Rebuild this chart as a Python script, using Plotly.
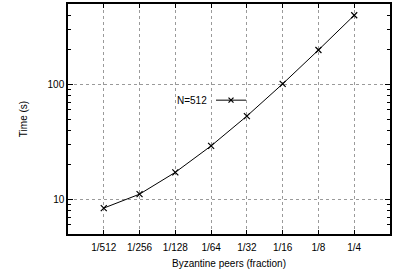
import plotly.graph_objects as go

categories = ["1/512", "1/256", "1/128", "1/64", "1/32", "1/16", "1/8", "1/4"]
times = [8.4, 11.1, 17.2, 29.2, 53, 101, 199, 399]
series_name = "N=512"
y_major = [10, 100]
y_minor = [5, 6, 7, 8, 9, 20, 30, 40, 50, 60, 70, 80, 90, 200, 300, 400, 500]

font = dict(family="Liberation Sans, Arial, sans-serif", size=10, color="black")

fig = go.Figure()
fig.add_trace(go.Scatter(
    x=list(range(len(categories))), y=times, mode="lines+markers",
    name=series_name,
    line=dict(color="black", width=1),
    marker=dict(symbol="x-thin", size=6, line=dict(color="black", width=1.2)),
    showlegend=False,
))

fig.update_layout(
    width=395, height=275,
    margin=dict(l=68, r=5, t=2, b=41),
    paper_bgcolor="white", plot_bgcolor="white",
    font=font,
    xaxis=dict(
        range=[-1, 8],
        tickmode="array", tickvals=list(range(len(categories))), ticktext=categories,
        showgrid=True, gridcolor="#9a9a9a", griddash="dot", gridwidth=1,
        showline=True, linecolor="black", linewidth=1.5, mirror="ticks",
        ticks="inside", ticklen=4, tickcolor="black", ticklabelstandoff=3,
        title=dict(text="Byzantine peers (fraction)", standoff=8, font=font),
        zeroline=False,
    ),
    yaxis=dict(
        type="log", range=[0.699, 2.699],
        tickmode="array", tickvals=y_major, ticktext=[str(v) for v in y_major],
        showgrid=True, gridcolor="#9a9a9a", griddash="dot", gridwidth=1,
        showline=True, linecolor="black", linewidth=1.5, mirror="allticks",
        ticks="inside", ticklen=5, tickcolor="black",
        minor=dict(tickmode="array", tickvals=y_minor, ticks="inside", ticklen=3,
                   tickcolor="black", showgrid=False),
        title=dict(text="Time (s)", standoff=18, font=font),
        zeroline=False,
    ),
)

# gnuplot-style key: text on the left, line sample on the right
fig.add_annotation(xref="paper", yref="paper", x=(209 - 68) / 322, y=(234 - 99) / 232,
                   text=series_name, showarrow=False, xanchor="right", yanchor="middle",
                   font=font)
lx0, lx1, ly = (216 - 68) / 322, (246 - 68) / 322, (234 - 99) / 232
fig.add_shape(type="line", xref="paper", yref="paper", x0=lx0, x1=lx1, y0=ly, y1=ly,
              line=dict(color="black", width=1))
mx = (231 - 68) / 322
dx, dy = 2.5 / 322, 2.5 / 232
fig.add_shape(type="line", xref="paper", yref="paper", x0=mx - dx, x1=mx + dx,
              y0=ly - dy, y1=ly + dy, line=dict(color="black", width=1.2))
fig.add_shape(type="line", xref="paper", yref="paper", x0=mx - dx, x1=mx + dx,
              y0=ly + dy, y1=ly - dy, line=dict(color="black", width=1.2))

fig.write_html("out.html", config={"displayModeBar": False},
               post_script="document.body.style.margin='0';")
